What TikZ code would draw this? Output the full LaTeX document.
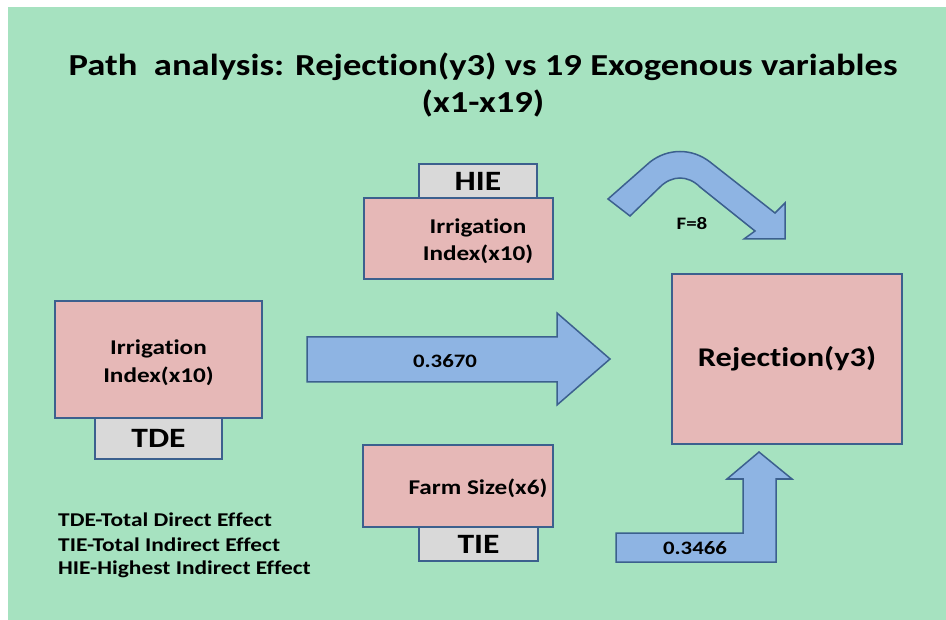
\documentclass[tikz,border=0pt]{standalone}
\usepackage{fontspec}
\setmainfont{Carlito}[FakeStretch=1.2, Ligatures=NoCommon]
\definecolor{bgreen}{RGB}{166,226,192}
\definecolor{rosebox}{RGB}{230,184,183}
\definecolor{tabgray}{RGB}{217,217,217}
\definecolor{arrowfill}{RGB}{142,180,227}
\definecolor{edgeblue}{RGB}{60,96,142}
\newcommand{\fsz}[2]{\fontsize{#1}{#2}\selectfont\bfseries}

\begin{document}
\begin{tikzpicture}[x=1pt,y=-1pt,
    box/.style={draw=edgeblue, line width=1.5pt, fill=rosebox, inner sep=0pt},
    tab/.style={draw=edgeblue, line width=1.5pt, fill=tabgray, inner sep=0pt, font=\fsz{28}{30}},
    blockarrow/.style={draw=edgeblue, line width=1.5pt, fill=arrowfill, line join=miter},
    txt/.style={align=center, inner sep=0pt}]
    \useasboundingbox (0,0) rectangle (946,620);
    \fill[white] (0,0) rectangle (946,620);
    \fill[bgreen] (8,7) rectangle (946,620);

    \node[txt, font=\fsz{30.5}{37}] (title) at (483,84.5)
        {Path\ \ analysis: Rejection(y3) vs 19 Exogenous variables\\(x1-x19)};

    % highest indirect effect
    \node[tab, minimum width=118pt, minimum height=34pt] (hie) at (478,181) {HIE};
    \node[box, minimum width=189pt, minimum height=81pt] (hiebox) at (458.5,238.5) {};
    \node[txt, font=\fsz{21}{27}] (hietext) at (478,241.5) {Irrigation\\Index(x10)};

    % total direct effect
    \node[box, minimum width=207pt, minimum height=117pt] (x10) at (158.5,359.5) {};
    \node[txt, font=\fsz{21}{28}] (x10text) at (158.5,362.5) {Irrigation\\Index(x10)};
    \node[tab, minimum width=127pt, minimum height=41pt] (tde) at (158.5,438.5) {TDE};

    % total indirect effect
    \node[box, minimum width=190pt, minimum height=82pt] (x6) at (458,486) {};
    \node[txt, font=\fsz{21}{25}] (x6text) at (478,488) {Farm Size(x6)};
    \node[tab, minimum width=119pt, minimum height=34pt] (tie) at (478.5,544) {TIE};

    \node[box, minimum width=230pt, minimum height=170pt, font=\fsz{27}{32}] (y3) at (787,359) {Rejection(y3)};

    % arrows
    \draw[blockarrow] (307,337) -- (557,337) -- (557,313) -- (610,359) -- (557,405)
        -- (557,382) -- (307,382) -- cycle;
    \node[txt, font=\fsz{19}{22}] (direct) at (445,361) {0.3670};

    \draw[blockarrow] (616,533) -- (743,533) -- (743,479) -- (727,479) -- (759,452)
        -- (792,479) -- (776,479) -- (776,562) -- (616,562) -- cycle;
    \node[txt, font=\fsz{19}{22}] (indirect) at (695,548) {0.3466};

    \draw[blockarrow] (608,199) -- (650,162) .. controls (668,148) and (692,148) .. (710,162)
        -- (775,213) -- (785,203) -- (785,239) -- (744,239) -- (755,231)
        -- (700,187) .. controls (688,175) and (672,175) .. (660,187) -- (630,216) -- cycle;
    \node[txt, font=\fsz{17.5}{20}] (freq) at (692,224) {F=8};

    % legend
    \node[txt, anchor=west, font=\fsz{19.5}{22}] (leg1) at (58,520) {TDE-Total Direct Effect};
    \node[txt, anchor=west, font=\fsz{19.5}{22}] (leg2) at (58,545) {TIE-Total Indirect Effect};
    \node[txt, anchor=west, font=\fsz{19.5}{22}] (leg3) at (58,569) {HIE-Highest Indirect Effect};
\end{tikzpicture}
\end{document}
